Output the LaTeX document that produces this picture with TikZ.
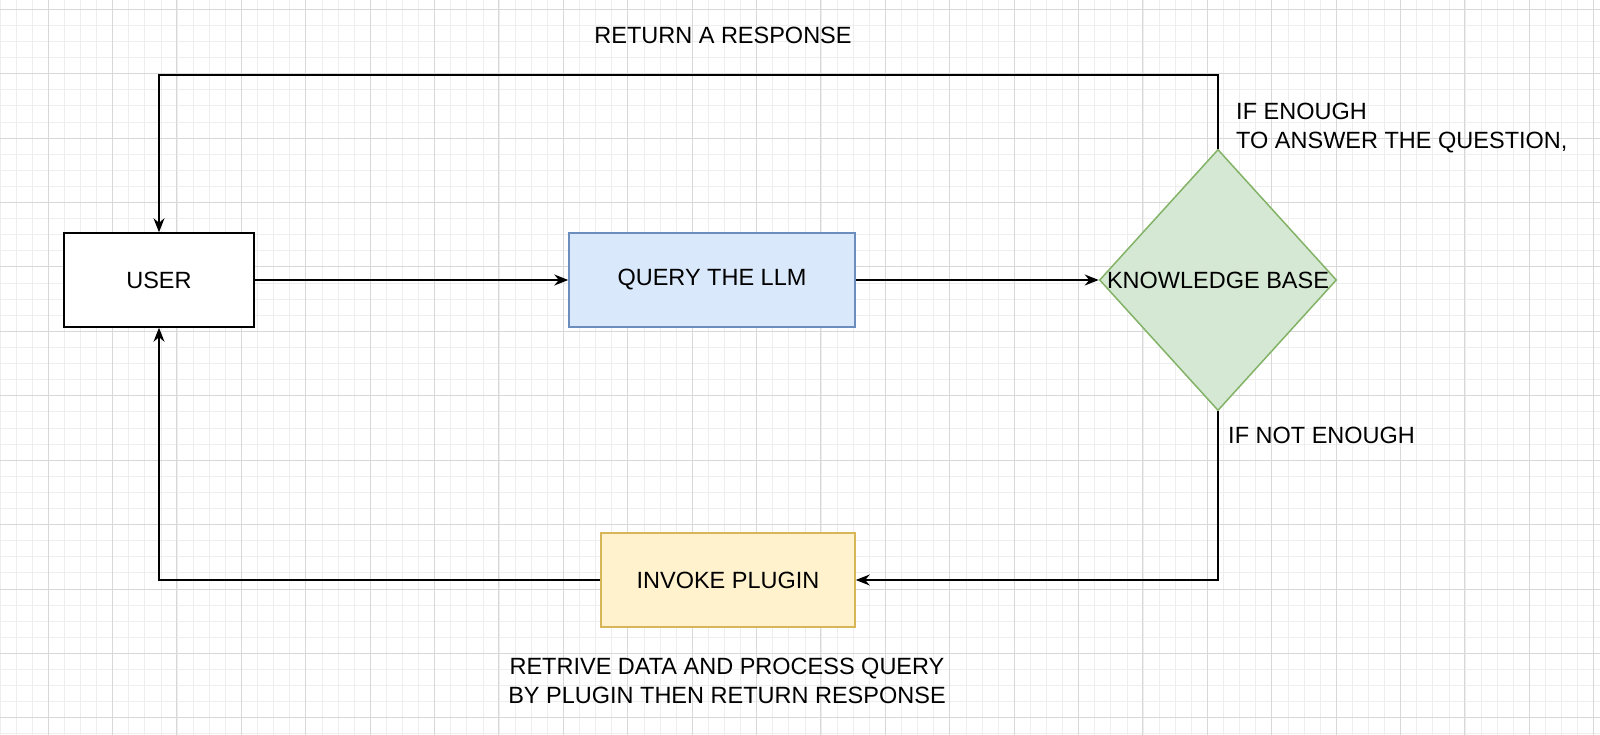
\documentclass[tikz,border=0pt]{standalone}
\usepackage{fontspec}
\setmainfont{Liberation Sans}
\usepackage{xcolor}
\definecolor{BlueFill}{HTML}{DAE8FC}
\definecolor{BlueLine}{HTML}{6C8EBF}
\definecolor{GreenFill}{HTML}{D5E8D4}
\definecolor{GreenLine}{HTML}{82B366}
\definecolor{YellowFill}{HTML}{FFF2CC}
\definecolor{YellowLine}{HTML}{D6B656}
\definecolor{GridMinor}{HTML}{EEEEEE}
\definecolor{GridMajor}{HTML}{D8D8D8}
\usetikzlibrary{positioning}
\usetikzlibrary{shapes.geometric}
\usetikzlibrary{arrows.meta}

\begin{document}
\begin{tikzpicture}[
      x=1pt, y=-1pt
      , font=\fontsize{23.5}{29}\selectfont
      , block/.style={rectangle, draw, line width=1.5pt, minimum width=#1, minimum height=94pt, inner sep=0pt}
      , flow/.style={-{Stealth[length=14pt,width=11pt]}, line width=1.5pt}
      , note/.style={inner sep=0pt, align=left}
      ]

      \useasboundingbox (0,0) rectangle (1600,735);
      \fill[white] (0,0) rectangle (1600,735);

      % background grid
      \foreach \i in {0,...,100} {
        \draw[GridMinor, line width=1pt] ({-16.1+\i*16.1},0) -- ({-16.1+\i*16.1},735);
      }
      \foreach \i in {0,...,46} {
        \draw[GridMinor, line width=1pt] (0,{-6.7+\i*16.1}) -- (1600,{-6.7+\i*16.1});
      }
      \foreach \i in {0,...,25} {
        \draw[GridMajor, line width=1pt] ({-16.4+\i*64.4},0) -- ({-16.4+\i*64.4},735);
      }
      \foreach \i in {0,...,12} {
        \draw[GridMajor, line width=1pt] (0,{9.4+\i*64.4}) -- (1600,{9.4+\i*64.4});
      }

      \node[block=190pt, fill=white] (user) at (159,280) {USER};
      \node[block=286pt, fill=BlueFill, draw=BlueLine] (query) at (712,280) {QUERY THE LLM};
      \node[diamond, draw=GreenLine, fill=GreenFill, line width=1.5pt, inner sep=0pt,
            minimum width=236pt, minimum height=260pt, aspect=0.9077] (kb) at (1218,280) {KNOWLEDGE BASE};
      \node[block=254pt, fill=YellowFill, draw=YellowLine] (plugin) at (728,580) {INVOKE PLUGIN};

      \coordinate (top-right) at (1218,75);
      \coordinate (top-left) at (159,75);
      \coordinate (bottom-right) at (1218,580);
      \coordinate (bottom-left) at (159,580);

      \draw[flow] (user) -- (query);
      \draw[flow] (query) -- (kb);
      \draw[flow] (kb.north) -- (top-right) -- (top-left) -- (user.north);
      \draw[flow] (kb.south) -- (bottom-right) -- (plugin.east);
      \draw[flow] (plugin.west) -- (bottom-left) -- (user.south);

      \node[note] (return-label) at (723,35) {RETURN A RESPONSE};
      \node[note, anchor=west] (enough-label) at (1236,128) {IF ENOUGH\\TO ANSWER THE QUESTION,};
      \node[note, anchor=west] (not-enough-label) at (1228,435) {IF NOT ENOUGH};
      \node[note, align=center] (plugin-label) at (727,681) {RETRIVE DATA AND PROCESS QUERY\\BY PLUGIN THEN RETURN RESPONSE};
    \end{tikzpicture}
\end{document}
